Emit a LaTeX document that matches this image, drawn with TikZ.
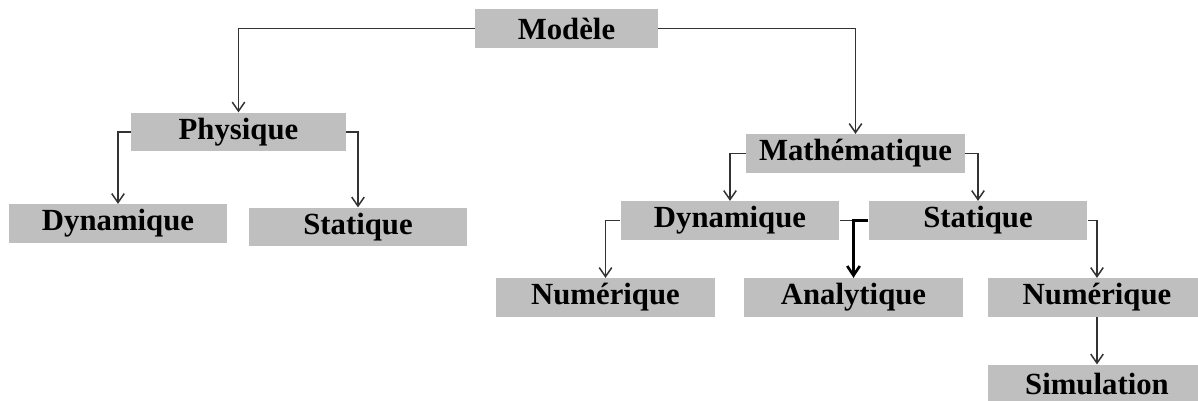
\documentclass[tikz,border=0pt]{standalone}
\usepackage{fontspec}
\setmainfont{Liberation Serif}
\usetikzlibrary{arrows.meta}
\begin{document}
\begin{tikzpicture}[x=0.02cm,y=-0.02cm,
  box/.style={fill=black!25,inner sep=0pt,minimum width=4.38cm,minimum height=0.77cm,
    font=\fontsize{17.5}{20}\selectfont\bfseries},
  link/.style={draw=black!80,line width=0.85pt},
  tip/.style={-{Straight Barb[length=1.8mm,width=2.5mm]}},
  boldtip/.style={-{Straight Barb[length=1.9mm,width=2.5mm,line width=1.5pt]}}]
\useasboundingbox (0,0) rectangle (1198,401);

\node[box,minimum width=3.66cm] (modele) at (566.5,28.5) {Modèle};
\node[box,minimum width=4.3cm] (physique) at (238.5,132) {Physique};
\node[box] (dynphys) at (118,223.5) {Dynamique};
\node[box] (statphys) at (358,227) {Statique};

\node[box] (math) at (855.5,153.5) {Mathématique};
\node[box] (dynmath) at (730,220.5) {Dynamique};
\node[box] (statmath) at (978,220.5) {Statique};

\node[box] (numdyn) at (605.5,297.5) {Numérique};
\node[box] (analytique) at (853.5,297.5) {Analytique};
\node[box] (numstat) at (1097,297.5) {Numérique};
\node[box] (simulation) at (1097,384) {Simulation};

\path[link,tip] (modele.west) -| (physique.north);
\path[link,tip] (modele.east) -| (math.north);
\path[link,tip] (physique.west) -| (dynphys.north);
\path[link,tip] (physique.east) -| (statphys.north);
\path[link,tip] (math.west) -| (dynmath.north);
\path[link,tip] (math.east) -| (statmath.north);
\path[link,tip] (dynmath.west) -| (numdyn.north);
\path[link,tip] (statmath.east) -| (numstat.north);
\path[link,tip] (numstat.south) -- (simulation.north);
\path[link] (dynmath.east) -- (dynmath.east -| analytique.north);
\path[draw=black,line width=1.5pt,boldtip] (statmath.west) -| (analytique.north);
\end{tikzpicture}
\end{document}
